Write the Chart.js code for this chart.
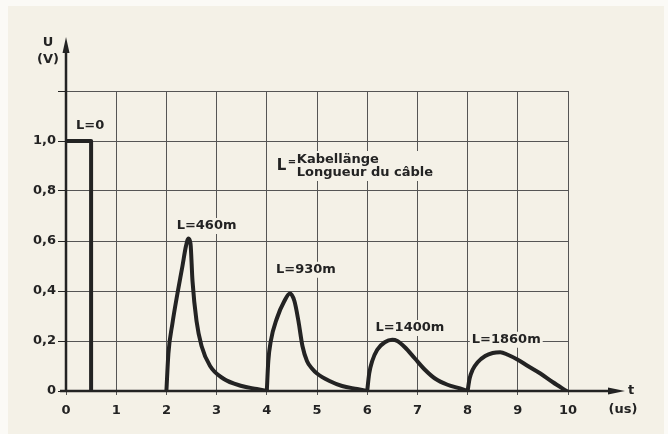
<!DOCTYPE html>
<html>
<head>
<meta charset="utf-8">
<script src="https://cdn.jsdelivr.net/npm/chart.js@4/dist/chart.umd.min.js"></script>
<style>
  html, body { margin: 0; padding: 0; background: #fbfaf6; }
  #wrap { position: relative; width: 668px; height: 434px; }
</style>
</head>
<body>
<div id="wrap"><canvas id="c" width="668" height="434"></canvas></div>
<script>
// pulse readings (time in us, voltage in V)
const t0 = [0, 0.5, 0.5];
const u0 = [1.0, 1.0, 0];
const t460 = [2.0, 2.04, 2.12, 2.22, 2.32, 2.39, 2.44, 2.48, 2.52, 2.6, 2.7, 2.87, 3.13, 3.5, 3.8, 4.0];
const u460 = [0, 0.15, 0.27, 0.39, 0.5, 0.58, 0.61, 0.59, 0.44, 0.28, 0.18, 0.10, 0.05, 0.02, 0.008, 0];
const t930 = [4.0, 4.03, 4.08, 4.2, 4.35, 4.46, 4.55, 4.63, 4.71, 4.8, 4.9, 5.0, 5.25, 5.5, 5.8, 6.0];
const u930 = [0, 0.12, 0.20, 0.29, 0.36, 0.39, 0.36, 0.28, 0.18, 0.12, 0.09, 0.07, 0.04, 0.02, 0.008, 0];
const t1400 = [6.0, 6.04, 6.1, 6.2, 6.35, 6.5, 6.6, 6.75, 6.95, 7.15, 7.35, 7.6, 7.85, 8.0];
const u1400 = [0, 0.07, 0.12, 0.165, 0.195, 0.205, 0.20, 0.175, 0.13, 0.085, 0.05, 0.025, 0.01, 0];
const t1860 = [8.0, 8.04, 8.1, 8.2, 8.35, 8.5, 8.65, 8.8, 9.0, 9.2, 9.45, 9.7, 9.97];
const u1860 = [0, 0.05, 0.085, 0.115, 0.14, 0.152, 0.155, 0.145, 0.125, 0.10, 0.07, 0.035, 0];

// labels placed at data coordinates
const curveLabels = [
  { text: 'L=0', x: 0.48, y: 1.06 },
  { text: 'L=460m', x: 2.8, y: 0.66 },
  { text: 'L=930m', x: 4.78, y: 0.485 },
  { text: 'L=1400m', x: 6.85, y: 0.252 },
  { text: 'L=1860m', x: 8.77, y: 0.205 }
];

const yTicks = [0, 0.2, 0.4, 0.6, 0.8, 1.0, 1.2];
const xTicks = [0, 1, 2, 3, 4, 5, 6, 7, 8, 9, 10];

const ink = '#232323';
const paper = '#f4f1e7';
const fam = '"DejaVu Sans", "Liberation Sans", sans-serif';
const labelFont = 'bold 13px ' + fam;

function pts(xs, ys) {
  return xs.map((x, i) => ({ x: x, y: ys[i] }));
}

function curve(label, xs, ys, smooth) {
  return {
    label: label,
    data: pts(xs, ys),
    borderColor: ink,
    borderWidth: 4,
    pointRadius: 0,
    tension: 0,
    cubicInterpolationMode: smooth ? 'monotone' : 'default',
    borderCapStyle: 'round',
    borderJoinStyle: 'round'
  };
}

const paperBg = {
  id: 'paperBg',
  beforeDraw(chart) {
    const ctx = chart.ctx;
    ctx.save();
    ctx.fillStyle = paper;
    ctx.fillRect(8, 6, 656, 428);
    ctx.restore();
  }
};

// axis lines with arrows, axis titles, text labels with paper behind them
const decor = {
  id: 'decor',
  afterDatasetsDraw(chart) {
    const ctx = chart.ctx;
    const xs = chart.scales.x, ys = chart.scales.y;
    const x0 = xs.getPixelForValue(0);
    const y0 = ys.getPixelForValue(0);
    const area = chart.chartArea;
    const topTip = area.top - 54;
    const rightTip = area.right + 57;
    ctx.save();
    ctx.strokeStyle = ink;
    ctx.fillStyle = ink;
    ctx.lineWidth = 2.5;
    ctx.beginPath();
    ctx.moveTo(x0, y0);
    ctx.lineTo(x0, topTip + 10);
    ctx.moveTo(x0 - 6, y0);
    ctx.lineTo(rightTip - 12, y0);
    ctx.stroke();
    // arrow heads
    ctx.beginPath();
    ctx.moveTo(x0, topTip);
    ctx.lineTo(x0 - 3.5, topTip + 16);
    ctx.lineTo(x0 + 3.5, topTip + 16);
    ctx.closePath();
    ctx.fill();
    ctx.beginPath();
    ctx.moveTo(rightTip, y0);
    ctx.lineTo(rightTip - 17, y0 - 3.5);
    ctx.lineTo(rightTip - 17, y0 + 3.5);
    ctx.closePath();
    ctx.fill();

    ctx.font = labelFont;
    ctx.textAlign = 'center';
    ctx.textBaseline = 'middle';
    ctx.fillText('U', x0 - 18, topTip + 6);
    ctx.fillText('(V)', x0 - 18, topTip + 23);
    ctx.fillText('t', rightTip + 6, y0);
    ctx.fillText('(us)', rightTip - 2, y0 + 19);

    function boxed(text, px, py) {
      const w = ctx.measureText(text).width;
      ctx.fillStyle = paper;
      ctx.fillRect(px - w / 2 - 2, py - 8, w + 4, 16);
      ctx.fillStyle = ink;
      ctx.fillText(text, px, py);
    }
    curveLabels.forEach(l => {
      boxed(l.text, xs.getPixelForValue(l.x), ys.getPixelForValue(l.y));
    });

    // legend note for L
    const lx = xs.getPixelForValue(4.2), ly = ys.getPixelForValue(0.9);
    ctx.textAlign = 'left';
    const w1 = ctx.measureText('Longueur du câble').width;
    ctx.fillStyle = paper;
    ctx.fillRect(lx - 2, ly - 15, w1 + 24, 30);
    ctx.fillStyle = ink;
    ctx.font = 'bold 15px ' + fam;
    ctx.fillText('L', lx, ly);
    ctx.font = 'bold 10px ' + fam;
    ctx.fillText('=', lx + 11, ly - 4);
    ctx.font = labelFont;
    ctx.fillText('Kabellänge', lx + 20, ly - 6);
    ctx.fillText('Longueur du câble', lx + 20, ly + 7);
    ctx.restore();
  }
};

new Chart(document.getElementById('c'), {
  type: 'line',
  data: {
    datasets: [
      curve('L=0', t0, u0, false),
      curve('L=460m', t460, u460, true),
      curve('L=930m', t930, u930, true),
      curve('L=1400m', t1400, u1400, true),
      curve('L=1860m', t1860, u1860, true)
    ]
  },
  options: {
    responsive: false,
    animation: false,
    layout: { padding: { left: 0, right: 100, top: 91, bottom: 0 } },
    plugins: {
      legend: { display: false },
      tooltip: { enabled: false }
    },
    scales: {
      x: {
        type: 'linear',
        min: 0,
        max: 10,
        afterFit(scale) { scale.height = 43; },
        afterBuildTicks(scale) { scale.ticks = xTicks.map(v => ({ value: v })); },
        grid: { color: '#555', lineWidth: 1, tickLength: 4, tickColor: '#555' },
        border: { display: false },
        ticks: {
          color: ink,
          padding: 8,
          font: { family: fam, size: 13, weight: 'bold' },
          maxRotation: 0
        }
      },
      y: {
        type: 'linear',
        min: 0,
        max: 1.2,
        afterFit(scale) { scale.width = 66; },
        afterBuildTicks(scale) { scale.ticks = yTicks.map(v => ({ value: v })); },
        grid: { color: '#555', lineWidth: 1, tickLength: 8, tickColor: ink },
        border: { display: false },
        ticks: {
          color: ink,
          padding: 2,
          font: { family: fam, size: 13, weight: 'bold' },
          callback(v) {
            if (v === 0) return '0';
            if (v > 1.1) return '';
            return v.toFixed(1).replace('.', ',');
          }
        }
      }
    }
  },
  plugins: [paperBg, decor]
});
</script>
</body>
</html>
